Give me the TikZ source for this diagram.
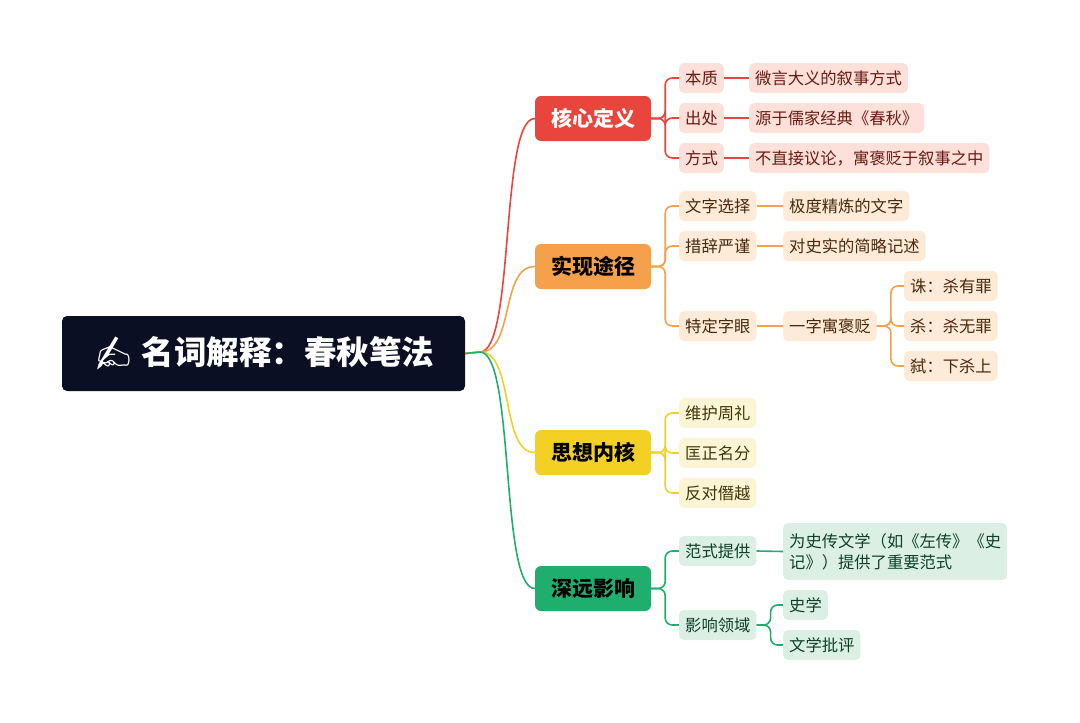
\documentclass[tikz,border=0pt]{standalone}
\usepackage{fontspec}
\setmainfont{Noto Sans CJK SC}
\newfontfamily\emojifont{Noto Emoji}
\usetikzlibrary{calc}
\definecolor{rootbg}{HTML}{0A0F24}
\definecolor{redc}{HTML}{E8453C}\definecolor{redl}{HTML}{FDE0D9}\definecolor{redt}{HTML}{6A1A10}
\definecolor{orac}{HTML}{F5A04A}\definecolor{oral}{HTML}{FDEBD8}\definecolor{orat}{HTML}{4A280C}
\definecolor{yelc}{HTML}{F2D024}\definecolor{yell}{HTML}{FBF4D5}\definecolor{yelt}{HTML}{403506}
\definecolor{grnc}{HTML}{1FAE6E}\definecolor{grnl}{HTML}{DCEFE4}\definecolor{grnt}{HTML}{0C4028}
\tikzset{
  rootbox/.style={fill=rootbg, text=white, rounded corners=5pt, minimum width=403pt, minimum height=75pt, font=\fontsize{32.5}{38}\selectfont\bfseries},
  branch/.style={fill=#1, rounded corners=6pt, minimum width=116pt, minimum height=45pt, font=\fontsize{21}{24}\selectfont\bfseries},
  leaf/.style={fill=#1, rounded corners=5pt, minimum height=30pt, inner xsep=6pt, font=\fontsize{16.3}{21}\selectfont},
  link/.style={draw=#1, line width=1.6pt, rounded corners=7pt},
}
\begin{document}
\begin{tikzpicture}[x=1pt,y=-1pt]
\useasboundingbox (0,0) rectangle (1080,723);
% root
\node[rootbox] (root) at (263.5,353.5) {{\emojifont ✍}\ 名词解释：春秋笔法};
\coordinate (hub) at (480,352);
% branches
\node[branch=redc, text=white] (def) at (593,118.5) {核心定义};
\node[branch=orac, text=black] (way) at (593,266.5) {实现途径};
\node[branch=yelc, text=black] (core) at (593,452.5) {思想内核};
\node[branch=grnc, text=black] (inf) at (593,588.5) {深远影响};
\foreach \b/\c in {def/redc, way/orac, core/yelc, inf/grnc}
  \draw[draw=\c, line width=1.6pt] (root.east) -- (hub) .. controls ($(hub)+(35,0)$) and ($(\b.west)+(-35,0)$) .. (\b.west);
% core definition
\node[leaf=redl, text=redt, anchor=west] (ess) at (679,78) {本质};
\node[leaf=redl, text=redt, anchor=west] (src) at (679,118) {出处};
\node[leaf=redl, text=redt, anchor=west] (mode) at (679,158) {方式};
\node[leaf=redl, text=redt, anchor=west] (ess2) at (749,78) {微言大义的叙事方式};
\node[leaf=redl, text=redt, anchor=west] (src2) at (749,118) {源于儒家经典《春秋》};
\node[leaf=redl, text=redt, anchor=west] (mode2) at (749,158) {不直接议论，寓褒贬于叙事之中};
\foreach \c in {ess, src, mode}
  \draw[link=redc] (def.east) -- ++(14,0) |- (\c.west);
\foreach \c in {ess, src, mode}
  \draw[link=redc] (\c.east) -- (\c2.west);
% ways
\node[leaf=oral, text=orat, anchor=west] (word) at (679,206) {文字选择};
\node[leaf=oral, text=orat, anchor=west] (phr) at (679,246) {措辞严谨};
\node[leaf=oral, text=orat, anchor=west] (eye) at (679,326) {特定字眼};
\node[leaf=oral, text=orat, anchor=west] (word2) at (783,206) {极度精炼的文字};
\node[leaf=oral, text=orat, anchor=west] (phr2) at (783,246) {对史实的简略记述};
\node[leaf=oral, text=orat, anchor=west] (eye2) at (783,326) {一字寓褒贬};
\node[leaf=oral, text=orat, anchor=west] (zhu) at (904,286) {诛：杀有罪};
\node[leaf=oral, text=orat, anchor=west] (sha) at (904,326) {杀：杀无罪};
\node[leaf=oral, text=orat, anchor=west] (shi) at (904,366) {弑：下杀上};
\foreach \c in {word, phr, eye}
  \draw[link=orac] (way.east) -- ++(14,0) |- (\c.west);
\foreach \c in {word, phr, eye}
  \draw[link=orac] (\c.east) -- (\c2.west);
\foreach \c in {zhu, sha, shi}
  \draw[link=orac] (eye2.east) -- ++(14,0) |- (\c.west);
% core ideas
\node[leaf=yell, text=yelt, anchor=west] (zhou) at (679,413) {维护周礼};
\node[leaf=yell, text=yelt, anchor=west] (name) at (679,453) {匡正名分};
\node[leaf=yell, text=yelt, anchor=west] (anti) at (679,493) {反对僭越};
\foreach \c in {zhou, name, anti}
  \draw[link=yelc] (core.east) -- ++(14,0) |- (\c.west);
% influence
\node[leaf=grnl, text=grnt, anchor=west] (para) at (679,551) {范式提供};
\node[leaf=grnl, text=grnt, anchor=west] (field) at (679,625) {影响领域};
\node[leaf=grnl, text=grnt, anchor=west, align=left, minimum height=57pt] (para2) at (783,551.5) {为史传文学（如《左传》《史\\记》）提供了重要范式};
\node[leaf=grnl, text=grnt, anchor=west] (hist) at (783,605) {史学};
\node[leaf=grnl, text=grnt, anchor=west] (crit) at (783,645) {文学批评};
\foreach \c in {para, field}
  \draw[link=grnc] (inf.east) -- ++(14,0) |- (\c.west);
\draw[link=grnc] (para.east) -- (para2.west);
\foreach \c in {hist, crit}
  \draw[link=grnc] (field.east) -- ++(14,0) |- (\c.west);
\end{tikzpicture}
\end{document}
